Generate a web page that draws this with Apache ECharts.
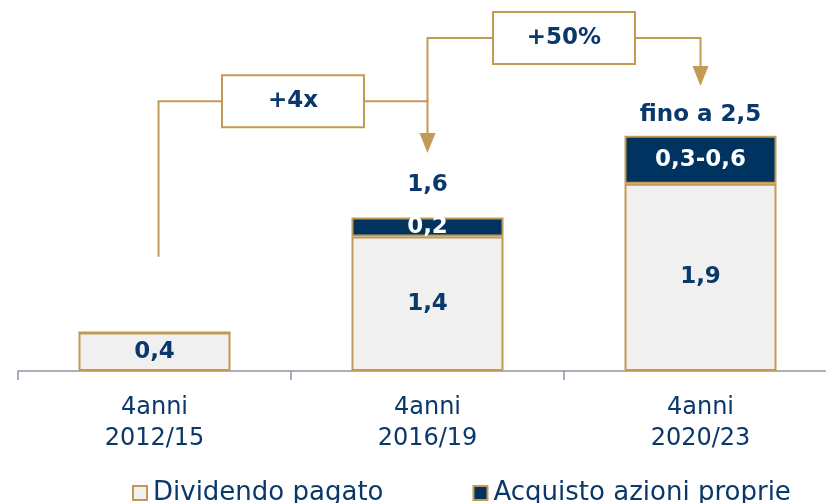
<!DOCTYPE html>
<html><head><meta charset="utf-8">
<script src="https://cdn.jsdelivr.net/npm/echarts@6/dist/echarts.min.js"></script>
<style>html,body{margin:0;padding:0;background:#fff}#c{width:826px;height:503px}</style>
</head><body><div id="c"></div>
<script>
const categories = ['4anni\n2012/15', '4anni\n2016/19', '4anni\n2020/23'];
const seriesNames = ['Dividendo pagato', 'Acquisto azioni proprie'];
const dividendo = [0.4, 1.4, 1.95];
const acquisto = [0, 0.2, 0.5];
const dividendoLabels = ['0,4', '1,4', '1,9'];
const acquistoLabels = ['', '0,2', '0,3-0,6'];
const totalLabels = ['', '1,6', 'fino a 2,5'];
const bracketFrom = [0, 1];
const bracketTo = [1, 2];
const bracketText = ['+4x', '+50%'];
const bracketStart = [1.19, 2.81];
const bracketLevel = [2.81, 3.47];
const bracketTip = [2.27, 2.97];

const GOLD = '#C19A55';
const NAVY = '#00335F';
const TEXT = '#0B386B';
const LIGHT = '#F0F0F0';
const FONT = '"DejaVu Sans", sans-serif';

const chart = echarts.init(document.getElementById('c'));
chart.setOption({
  backgroundColor: '#fff',
  animation: false,
  grid: { left: 18, width: 819, top: 35, bottom: 132, containLabel: false, outerBoundsMode: 'none' },
  xAxis: {
    type: 'category', data: categories,
    axisLine: { lineStyle: { color: '#8E95A5', width: 1.5 } },
    axisTick: { show: true, length: 9, lineStyle: { color: '#8E95A5', width: 1.5 } },
    axisLabel: { color: TEXT, fontFamily: FONT, fontSize: 24, lineHeight: 31, margin: 21 }
  },
  yAxis: { type: 'value', min: 0, max: 3.5, show: false, splitLine: { show: false } },
  legend: {
    data: seriesNames, left: 127, top: 475, itemGap: 89, itemWidth: 14, itemHeight: 14,
    icon: 'rect',
    textStyle: { color: TEXT, fontFamily: FONT, fontSize: 26, padding: [0, 0, 0, 1] }
  },
  series: [
    {
      name: seriesNames[0], type: 'bar', stack: 'a', barWidth: 152,
      data: dividendo,
      itemStyle: { color: LIGHT, borderColor: GOLD, borderWidth: 2 },
      label: { show: true, position: 'inside', color: TEXT, fontFamily: FONT, fontWeight: 'bold', fontSize: 23,
        formatter: p => dividendoLabels[p.dataIndex] }
    },
    {
      name: seriesNames[1], type: 'bar', stack: 'a', barWidth: 152,
      data: acquisto,
      itemStyle: { color: NAVY, borderColor: GOLD, borderWidth: 2 },
      label: { show: true, position: 'inside', color: '#fff', fontFamily: FONT, fontWeight: 'bold', fontSize: 23,
        formatter: p => acquistoLabels[p.dataIndex] }
    },
    {
      name: 'tot', type: 'bar', stack: 'a', barWidth: 152,
      data: totalLabels.map((t, i) => ({ value: 0, label: { distance: i === 1 ? 21 : 9 } })),
      itemStyle: { color: 'rgba(0,0,0,0)', borderWidth: 0 },
      label: { show: true, position: 'top', color: TEXT, fontFamily: FONT, fontWeight: 'bold', fontSize: 23,
        formatter: p => totalLabels[p.dataIndex] }
    }
  ]
});

const px = i => chart.convertToPixel({ xAxisIndex: 0 }, i);
const py = v => chart.convertToPixel({ yAxisIndex: 0 }, v);
const graphics = [];
const BOXW = 142, BOXH = 52, AW = 8, AH = 20;
for (let k = 0; k < bracketText.length; k++) {
  const x1 = px(bracketFrom[k]) + (k === 0 ? 4 : 0), x2 = px(bracketTo[k]);
  const y0 = py(bracketStart[k]), yl = py(bracketLevel[k]), yt = py(bracketTip[k]);
  graphics.push({ type: 'polyline', z: 10, shape: { points: [[x1, y0], [x1, yl], [x2, yl], [x2, yt - AH + 1]] },
    style: { stroke: GOLD, lineWidth: 2, fill: null } });
  graphics.push({ type: 'polygon', z: 10, shape: { points: [[x2 - AW, yt - AH], [x2 + AW, yt - AH], [x2, yt]] },
    style: { fill: GOLD } });
  const cx = (x1 + x2) / 2;
  graphics.push({ type: 'rect', z: 11, shape: { x: cx - BOXW / 2, y: yl - BOXH / 2, width: BOXW, height: BOXH },
    style: { fill: '#fff', stroke: GOLD, lineWidth: 2 } });
  graphics.push({ type: 'text', z: 12, x: cx, y: yl,
    style: { text: bracketText[k], align: 'center', verticalAlign: 'middle', fill: TEXT,
      fontFamily: FONT, fontWeight: 'bold', fontSize: 23 } });
}
chart.setOption({ graphic: graphics });
</script>
</body></html>
